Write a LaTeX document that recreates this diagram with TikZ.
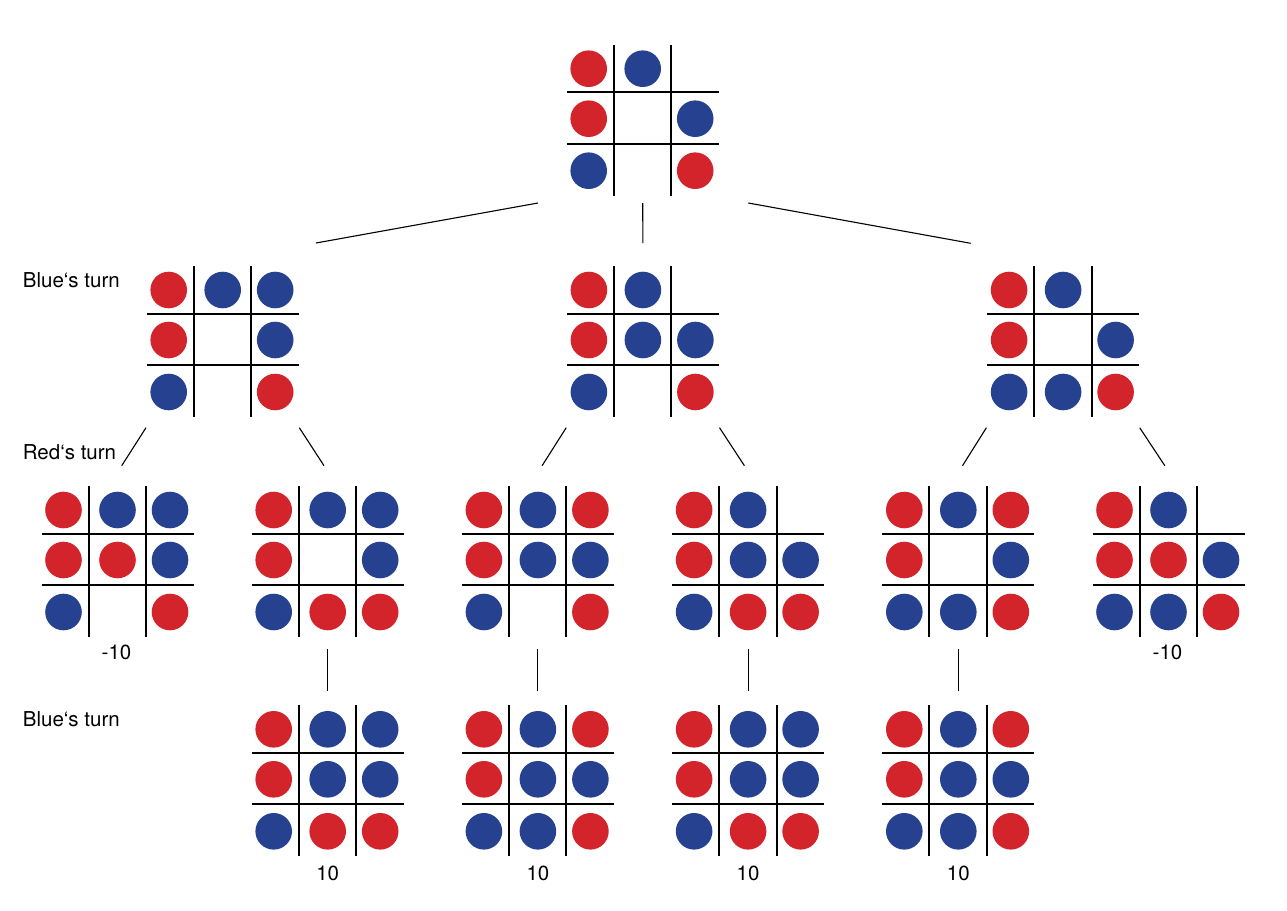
\documentclass[tikz,border=0pt]{standalone}
\usepackage{fontspec}
\setmainfont{TeX Gyre Heros}
\usetikzlibrary{calc}
\definecolor{tred}{RGB}{211,35,43}
\definecolor{tblue}{RGB}{37,65,143}
\tikzset{
  boardnode/.style={rectangle, inner sep=0pt, minimum width=152pt, minimum height=152pt},
  gridline/.style={line width=2pt, black},
  conn/.style={line width=1.1pt, black},
  lbl/.style={inner sep=0pt, font=\fontsize{20.5}{24}\selectfont},
}
\newcommand{\tttboard}[4]{%
  \node[boardnode] (#1) at (#2,#3) {};
  \draw[gridline] (#1.center) ++(-29,-74) -- ++(0,151);
  \draw[gridline] (#1.center) ++(28.5,-74) -- ++(0,151);
  \draw[gridline] (#1.center) ++(-76,-26.5) -- ++(152,0);
  \draw[gridline] (#1.center) ++(-76,25) -- ++(152,0);
  \foreach \v [count=\i from 0] in {#4} {
    \pgfmathtruncatemacro\col{mod(\i,3)}
    \pgfmathtruncatemacro\row{div(\i,3)}
    \pgfmathsetmacro\dx{{-54,0,52.5}[\col]}
    \pgfmathsetmacro\dy{{-50,0,52}[\row]}
    \path[fill=\v] (#1.center) ++(\dx,\dy) circle[radius=18.3pt];
  }%
}
\begin{document}
\begin{tikzpicture}[x=1pt,y=-1pt]
\useasboundingbox (0,0) rectangle (1287,910);

% top
\tttboard{top}{642.7}{118.7}{tred,tblue,none,tred,none,tblue,tblue,none,tred}
% level 1
\tttboard{l1a}{222.7}{340}{tred,tblue,tblue,tred,none,tblue,tblue,none,tred}
\tttboard{l1b}{642.9}{340}{tred,tblue,none,tred,tblue,tblue,tblue,none,tred}
\tttboard{l1c}{1063.1}{340}{tred,tblue,none,tred,none,tblue,tblue,tblue,tred}
% level 2
\tttboard{l2a}{117.5}{560}{tred,tblue,tblue,tred,tred,tblue,tblue,none,tred}
\tttboard{l2b}{327.7}{560}{tred,tblue,tblue,tred,none,tblue,tblue,tred,tred}
\tttboard{l2c}{537.9}{560}{tred,tblue,tred,tred,tblue,tblue,tblue,none,tred}
\tttboard{l2d}{748.1}{560}{tred,tblue,none,tred,tblue,tblue,tblue,tred,tred}
\tttboard{l2e}{958.3}{560}{tred,tblue,tred,tred,none,tblue,tblue,tblue,tred}
\tttboard{l2f}{1168.5}{560}{tred,tblue,none,tred,tred,tblue,tblue,tblue,tred}
% level 3
\tttboard{l3a}{327.7}{779.3}{tred,tblue,tblue,tred,tblue,tblue,tblue,tred,tred}
\tttboard{l3b}{537.9}{779.3}{tred,tblue,tred,tred,tblue,tblue,tblue,tblue,tred}
\tttboard{l3c}{748.1}{779.3}{tred,tblue,tblue,tred,tblue,tblue,tblue,tred,tred}
\tttboard{l3d}{958.3}{779.3}{tred,tblue,tred,tred,tblue,tblue,tblue,tblue,tred}

% connectors top -> level 1
\draw[conn] ($(top.center)+(-104.7,84.3)$) -- ($(l1a.center)+(93.3,-97)$);
\draw[conn] ($(top.center)+(0,84.3)$) -- ($(l1b.center)+(0,-97)$);
\draw[conn] ($(top.center)+(105.6,84.3)$) -- ($(l1c.center)+(-92.4,-96.7)$);
% level 1 -> level 2
\foreach \p/\a/\b in {l1a/l2a/l2b, l1b/l2c/l2d, l1c/l2e/l2f} {
  \draw[conn] ($(\p.center)+(-76.7,87.7)$) -- ($(\a.center)+(4.2,-94.3)$);
  \draw[conn] ($(\p.center)+(76.6,87.7)$) -- ($(\b.center)+(-3.7,-94.3)$);
}
% level 2 -> level 3
\foreach \p/\c in {l2b/l3a, l2c/l3b, l2d/l3c, l2e/l3d} {
  \draw[conn] ($(\p.center)+(0,89)$) -- ($(\c.center)+(0,-88.6)$);
}

% turn labels
\node[lbl, anchor=base west] (turn1) at (22.7,287.7) {Blue‘s turn};
\node[lbl, anchor=base west] (turn2) at (22.7,459.3) {Red‘s turn};
\node[lbl, anchor=base west] (turn3) at (22.7,726) {Blue‘s turn};

% values
\node[lbl, anchor=base] (v2a) at ($(l2a.center)+(-1,99)$) {-10};
\node[lbl, anchor=base] (v2f) at ($(l2f.center)+(-1,99)$) {-10};
\node[lbl, anchor=base] (v3a) at ($(l3a.center)+(0,101.4)$) {10};
\node[lbl, anchor=base] (v3b) at ($(l3b.center)+(0,101.4)$) {10};
\node[lbl, anchor=base] (v3c) at ($(l3c.center)+(0,101.4)$) {10};
\node[lbl, anchor=base] (v3d) at ($(l3d.center)+(0,101.4)$) {10};
\end{tikzpicture}
\end{document}
